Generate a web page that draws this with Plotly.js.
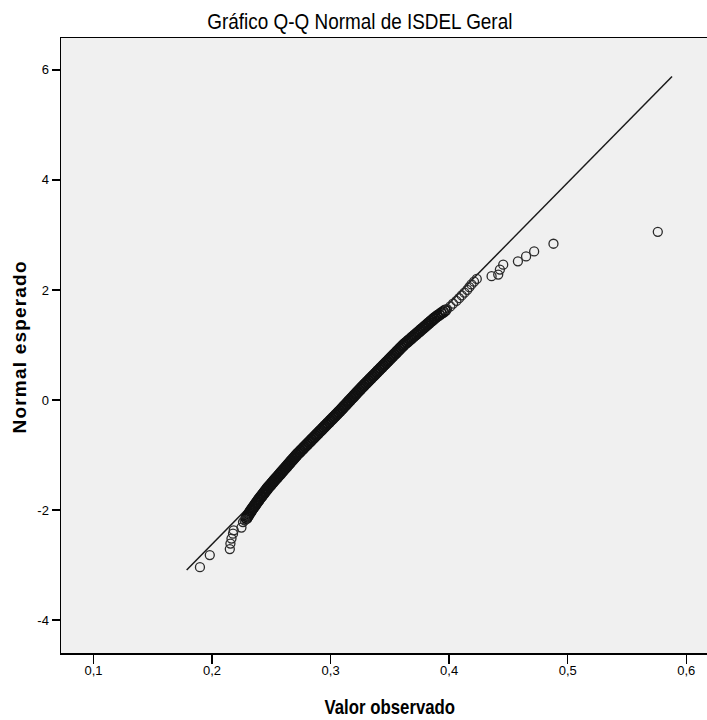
<!DOCTYPE html>
<html>
<head>
<meta charset="utf-8">
<script src="https://cdn.plot.ly/plotly-3.0.1.min.js"></script>
<style>html,body{margin:0;padding:0;background:#fff;}</style>
</head>
<body>
<div id="chart" style="width:707px;height:720px;"></div>
<script>
// Lower tail points
var lowTailObs = [0.1898, 0.1981, 0.2150, 0.2155, 0.2164, 0.2177, 0.2183, 0.2248, 0.2261, 0.2275];
var lowTailExp = [-3.04, -2.82, -2.71, -2.61, -2.52, -2.43, -2.37, -2.32, -2.22, -2.19];

// Dense central band (read along the band)
var bandObs = [
  0.2290,0.2297,0.2304,0.2311,0.2319,0.2326,0.2333,0.2341,0.2350,0.2358,
  0.2366,0.2374,0.2383,0.2391,0.2399,0.2408,0.2417,0.2426,0.2435,0.2444,
  0.2453,0.2462,0.2470,0.2481,0.2491,0.2501,0.2511,0.2521,0.2531,0.2541,
  0.2552,0.2562,0.2572,0.2582,0.2592,0.2602,0.2613,0.2623,0.2633,0.2643,
  0.2653,0.2663,0.2673,0.2684,0.2694,0.2704,0.2714,0.2725,0.2737,0.2748,
  0.2760,0.2771,0.2782,0.2794,0.2805,0.2817,0.2828,0.2839,0.2851,0.2862,
  0.2874,0.2885,0.2896,0.2908,0.2919,0.2931,0.2942,0.2953,0.2965,0.2976,
  0.2988,0.2999,0.3010,0.3022,0.3033,0.3045,0.3056,0.3067,0.3079,0.3090,
  0.3100,0.3111,0.3122,0.3133,0.3144,0.3154,0.3165,0.3176,0.3187,0.3198,
  0.3208,0.3219,0.3230,0.3241,0.3252,0.3263,0.3274,0.3285,0.3297,0.3308,
  0.3320,0.3331,0.3342,0.3354,0.3365,0.3377,0.3388,0.3399,0.3411,0.3422,
  0.3434,0.3445,0.3456,0.3468,0.3479,0.3491,0.3502,0.3513,0.3525,0.3536,
  0.3548,0.3559,0.3570,0.3582,0.3593,0.3605,0.3616,0.3629,0.3643,0.3656,
  0.3670,0.3683,0.3696,0.3710,0.3723,0.3737,0.3750,0.3763,0.3777,0.3790,
  0.3804,0.3817,0.3830,0.3844,0.3857,0.3871,0.3884,0.3900,0.3917,0.3933,
  0.3950,0.3966];
var bandExp = [
  -2.150,-2.125,-2.100,-2.075,-2.050,-2.025,-2.000,-1.975,-1.950,-1.925,
  -1.900,-1.875,-1.850,-1.825,-1.800,-1.775,-1.750,-1.725,-1.700,-1.675,
  -1.650,-1.625,-1.600,-1.575,-1.550,-1.525,-1.500,-1.475,-1.450,-1.425,
  -1.400,-1.375,-1.350,-1.325,-1.300,-1.275,-1.250,-1.225,-1.200,-1.175,
  -1.150,-1.125,-1.100,-1.075,-1.050,-1.025,-1.000,-0.975,-0.950,-0.925,
  -0.900,-0.875,-0.850,-0.825,-0.800,-0.775,-0.750,-0.725,-0.700,-0.675,
  -0.650,-0.625,-0.600,-0.575,-0.550,-0.525,-0.500,-0.475,-0.450,-0.425,
  -0.400,-0.375,-0.350,-0.325,-0.300,-0.275,-0.250,-0.225,-0.200,-0.175,
  -0.150,-0.125,-0.100,-0.075,-0.050,-0.025,0.000,0.025,0.050,0.075,
  0.100,0.125,0.150,0.175,0.200,0.225,0.250,0.275,0.300,0.325,
  0.350,0.375,0.400,0.425,0.450,0.475,0.500,0.525,0.550,0.575,
  0.600,0.625,0.650,0.675,0.700,0.725,0.750,0.775,0.800,0.825,
  0.850,0.875,0.900,0.925,0.950,0.975,1.000,1.025,1.050,1.075,
  1.100,1.125,1.150,1.175,1.200,1.225,1.250,1.275,1.300,1.325,
  1.350,1.375,1.400,1.425,1.450,1.475,1.500,1.525,1.550,1.575,
  1.600,1.625];

// Upper, thinner part of the band
var upperBandObs = [0.3982,0.4010,0.4033,0.4061,0.4084,0.4106,0.4129,0.4152,0.4170,0.4188,0.4210,0.4233];
var upperBandExp = [1.65,1.70,1.75,1.80,1.85,1.90,1.95,2.00,2.05,2.10,2.15,2.20];

// Upper tail points
var highTailObs = [0.4358, 0.4414, 0.4428, 0.4456, 0.458, 0.4649, 0.4717, 0.488, 0.576];
var highTailExp = [2.25, 2.28, 2.37, 2.46, 2.52, 2.61, 2.70, 2.84, 3.056];

// Reference line endpoints
var lineObs = [0.1786, 0.588];
var lineExp = [-3.09, 5.88];

var xTickVals = [0.1, 0.2, 0.3, 0.4, 0.5, 0.6];
var xTickText = ['0,1', '0,2', '0,3', '0,4', '0,5', '0,6'];
var yTickVals = [-4, -2, 0, 2, 4, 6];
var yTickText = ['-4', '-2', '0', '2', '4', '6'];

var sparseObs = lowTailObs.concat(upperBandObs, highTailObs);
var sparseExp = lowTailExp.concat(upperBandExp, highTailExp);

var arial = 'Liberation Sans, Arial, sans-serif';

var traces = [
  {x: lineObs, y: lineExp, mode: 'lines', type: 'scatter',
   line: {color: '#1a1a1a', width: 1.5}, hoverinfo: 'skip', showlegend: false},
  {x: bandObs, y: bandExp, mode: 'markers', type: 'scatter',
   marker: {symbol: 'circle-open', size: 10, color: '#111', line: {width: 2, color: '#111'}},
   showlegend: false},
  {x: sparseObs, y: sparseExp, mode: 'markers', type: 'scatter',
   marker: {symbol: 'circle-open', size: 9, color: '#2a2a2a', line: {width: 1.3, color: '#2a2a2a'}},
   showlegend: false}
];

var layout = {
  width: 707, height: 720,
  margin: {l: 61, r: 0, t: 38, b: 67},
  paper_bgcolor: '#ffffff',
  plot_bgcolor: '#f0f0f0',
  showlegend: false,
  title: {text: 'Gráfico Q-Q Normal de ISDEL Geral',
          font: {family: arial, size: 22, color: '#000'},
          xref: 'container', x: 0.509, xanchor: 'center',
          yref: 'container', y: 0.97, yanchor: 'middle'},
  xaxis: {range: [0.0726, 0.6175], tickvals: xTickVals, ticktext: xTickText,
          ticks: 'outside', ticklen: 9, tickwidth: 1.5, tickcolor: '#000',
          showline: true, linecolor: '#000', linewidth: 1.5, mirror: true,
          showgrid: false, zeroline: false,
          tickfont: {family: arial, size: 13, color: '#000'}},
  yaxis: {range: [-4.6, 6.58], tickvals: yTickVals, ticktext: yTickText,
          ticks: 'outside', ticklen: 8, tickwidth: 1.5, tickcolor: '#000',
          showline: true, linecolor: '#000', linewidth: 1.5, mirror: false,
          showgrid: false, zeroline: false,
          tickfont: {family: arial, size: 13, color: '#000'}},
  annotations: [
    {text: '<b>Valor observado</b>', xref: 'paper', yref: 'paper',
     x: 0.509, y: -0.0878, xanchor: 'center', yanchor: 'middle', showarrow: false,
     font: {family: arial, size: 20, color: '#000'}},
    {text: '<b>Normal esperado</b>', xref: 'paper', yref: 'paper',
     x: -0.0642, y: 0.4976, xanchor: 'center', yanchor: 'middle', showarrow: false,
     textangle: -90,
     font: {family: arial, size: 19, color: '#000'}}
  ]
};

function narrowText(el, k) {
  if (!el) return;
  var bb = el.getBBox();
  var cx = bb.x + bb.width / 2;
  var prev = el.getAttribute('transform') || '';
  el.setAttribute('transform', (prev + ' translate(' + (cx * (1 - k)) + ',0) scale(' + k + ',1)').trim());
}

Plotly.newPlot('chart', traces, layout, {displayModeBar: false, staticPlot: true}).then(function (gd) {
  narrowText(gd.querySelector('.gtitle'), 0.86);
  var anns = gd.querySelectorAll('text.annotation-text');
  anns.forEach(function (t) {
    if (t.textContent.indexOf('Valor') === 0) narrowText(t, 0.84);
    if (t.textContent.indexOf('Normal') === 0) t.style.letterSpacing = '1.2px';
  });
  gd.querySelectorAll('.xtick text').forEach(function (t) {
    var prev = t.getAttribute('transform') || '';
    t.setAttribute('transform', (prev + ' translate(0,-4)').trim());
  });
});
</script>
</body>
</html>
